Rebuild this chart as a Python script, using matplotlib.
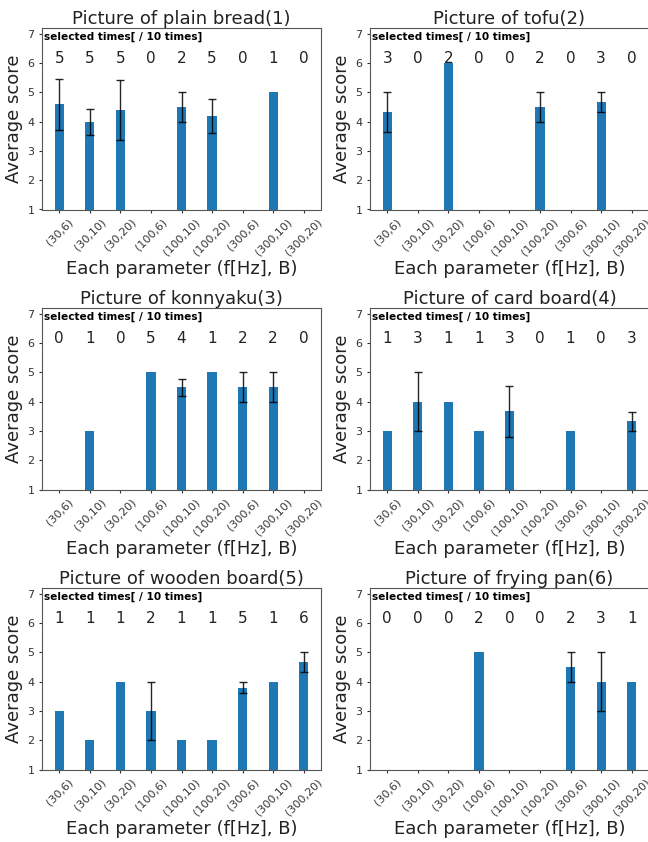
import matplotlib
matplotlib.use('Agg')
import matplotlib.pyplot as plt
import numpy as np

# Parametros (f[Hz], B)
parametros = ['(30,6)', '(30,10)', '(30,20)', '(100,6)', '(100,10)',
              '(100,20)', '(300,6)', '(300,10)', '(300,20)']

titulos = ['Picture of plain bread(1)', 'Picture of tofu(2)',
           'Picture of konnyaku(3)', 'Picture of card board(4)',
           'Picture of wooden board(5)', 'Picture of frying pan(6)']

# media das notas (0 = nunca escolhido)
media_pao = [4.6, 4.0, 4.4, 0, 4.5, 4.2, 0, 5.0, 0]
media_tofu = [4.33, 0, 6.0, 0, 0, 4.5, 0, 4.67, 0]
media_konnyaku = [0, 3.0, 0, 5.0, 4.5, 5.0, 4.5, 4.5, 0]
media_papelao = [3.0, 4.0, 4.0, 3.0, 3.67, 0, 3.0, 0, 3.33]
media_madeira = [3.0, 2.0, 4.0, 3.0, 2.0, 2.0, 3.8, 4.0, 4.67]
media_frigideira = [0, 0, 0, 5.0, 0, 0, 4.5, 4.0, 4.0]

# barras de erro
erro_pao = [0.87, 0.45, 1.02, 0, 0.5, 0.58, 0, 0, 0]
erro_tofu = [0.67, 0, 0, 0, 0, 0.5, 0, 0.33, 0]
erro_konnyaku = [0, 0, 0, 0, 0.29, 0, 0.5, 0.5, 0]
erro_papelao = [0, 1.0, 0, 0, 0.88, 0, 0, 0, 0.33]
erro_madeira = [0, 0, 0, 1.0, 0, 0, 0.2, 0, 0.33]
erro_frigideira = [0, 0, 0, 0, 0, 0, 0.5, 1.0, 0]

# quantas vezes foi escolhido (de 10)
vezes_pao = [5, 5, 5, 0, 2, 5, 0, 1, 0]
vezes_tofu = [3, 0, 2, 0, 0, 2, 0, 3, 0]
vezes_konnyaku = [0, 1, 0, 5, 4, 1, 2, 2, 0]
vezes_papelao = [1, 3, 1, 1, 3, 0, 1, 0, 3]
vezes_madeira = [1, 1, 1, 2, 1, 1, 5, 1, 6]
vezes_frigideira = [0, 0, 0, 2, 0, 0, 2, 3, 1]

medias = [media_pao, media_tofu, media_konnyaku, media_papelao, media_madeira, media_frigideira]
erros = [erro_pao, erro_tofu, erro_konnyaku, erro_papelao, erro_madeira, erro_frigideira]
vezes = [vezes_pao, vezes_tofu, vezes_konnyaku, vezes_papelao, vezes_madeira, vezes_frigideira]

W, H = 648, 842
fig = plt.figure(figsize=(W / 100, H / 100), dpi=100)

# posicoes dos eixos em pixels (esquerda, topo)
esquerdas = [42, 370]
topos = [28, 308, 588]
largura_px = 279
altura_px = 181.5

posicoes = np.arange(len(parametros))

for k in range(6):
    linha, coluna = divmod(k, 2)
    l = esquerdas[coluna]
    t = topos[linha]
    ax = fig.add_axes([l / W, 1 - (t + altura_px) / H, largura_px / W, altura_px / H])

    m = np.array(medias[k])
    e = np.array(erros[k])
    ax.bar(posicoes, m, width=0.3, color='#1f77b4')
    tem_erro = e > 0
    ax.errorbar(posicoes[tem_erro], m[tem_erro], yerr=e[tem_erro], fmt='none',
                ecolor='black', elinewidth=1.0, capsize=3, alpha=0.85)

    for i, n in enumerate(vezes[k]):
        ax.text(posicoes[i], 6, str(n), ha='center', fontsize=11, color='#222222')
    ax.text(-0.5, 6.8, 'selected times[ / 10 times]', fontsize=7.6, fontweight='bold')

    ax.set_ylim(1, 7.2)
    ax.set_yticks(range(1, 8))
    ax.set_xticks(posicoes)
    ax.set_xticklabels(parametros, rotation=45)
    ax.tick_params(labelsize=8, colors='#333333', length=2.5, pad=3)
    ax.set_title(titulos[k], fontsize=13, pad=3, color='#222222')
    ax.set_xlabel('Each parameter (f[Hz], B)', fontsize=13, color='#222222', labelpad=2)
    ax.set_ylabel('Average score', fontsize=13, color='#222222', labelpad=3)
    for lado in ax.spines.values():
        lado.set_color('#555555')

plt.savefig('out.png', dpi=100)
